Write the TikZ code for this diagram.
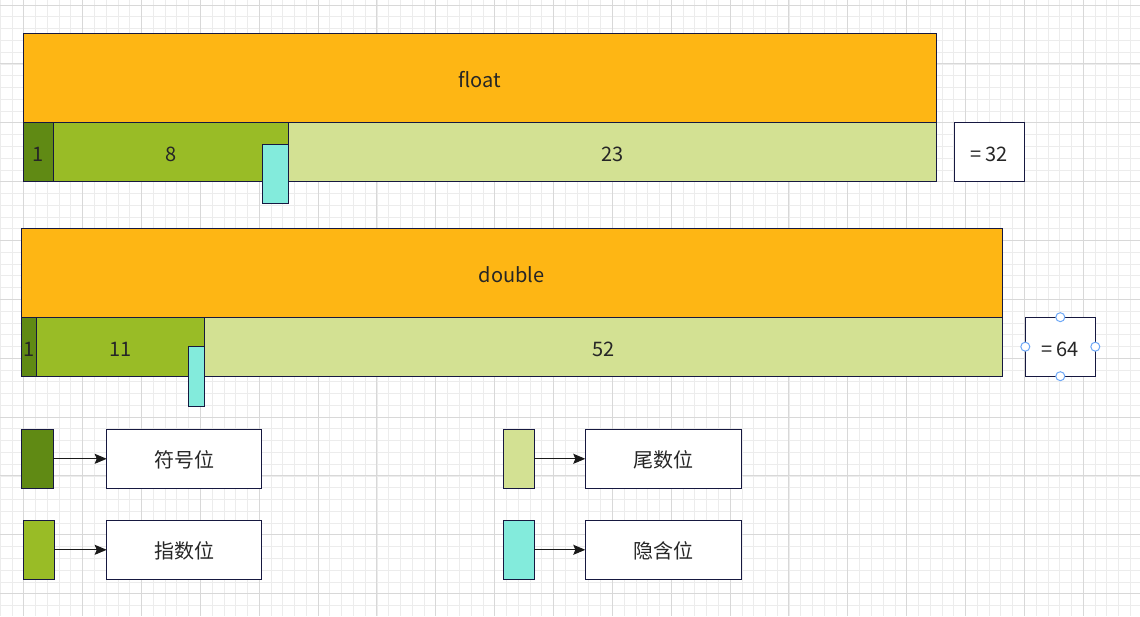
\documentclass[tikz,border=0pt]{standalone}
\usepackage{fontspec}
\setmainfont{Noto Sans CJK SC}
\usetikzlibrary{arrows.meta}
\definecolor{bordercol}{RGB}{22,24,64}
\definecolor{orangecol}{RGB}{254,182,20}
\definecolor{darkgreen}{RGB}{96,138,20}
\definecolor{midgreen}{RGB}{153,188,38}
\definecolor{lightgreen}{RGB}{211,225,147}
\definecolor{cyancol}{RGB}{131,235,220}
\definecolor{gridminor}{RGB}{236,236,236}
\definecolor{gridmajor}{RGB}{216,216,216}
\definecolor{handlecol}{RGB}{110,168,247}
\definecolor{arrowcol}{RGB}{26,26,26}
\tikzset{
  bx/.style={draw=bordercol, line width=1pt, rectangle, inner sep=0pt, outer sep=0pt,
    font=\fontsize{20}{24}\selectfont, text=black!85, text height=19pt, text depth=0pt},
  lbl/.style={bx, fill=white, font=\fontsize{20}{24}\selectfont, text height=17.4pt, text depth=0pt},
  conn/.style={draw=arrowcol, line width=1pt, -{Stealth[length=12pt,width=10pt,inset=2pt]}},
  handle/.style={circle, draw=handlecol, fill=white, line width=1pt, minimum size=9pt, inner sep=0pt}
}
\begin{document}
\begin{tikzpicture}[x=1pt,y=-1pt]
\useasboundingbox (0,0) rectangle (1140,616);
\fill[white] (0,0) rectangle (1140,616);
% grid
\foreach \i in {-2,...,95} {
  \draw[gridminor, line width=0.8pt] ({23.8+\i*11.772},0) -- ({23.8+\i*11.772},616);
}
\foreach \j in {0,...,52} {
  \draw[gridminor, line width=0.8pt] (0,{5.1+\j*11.772}) -- (1140,{5.1+\j*11.772});
}
\foreach \i in {-1,...,19} {
  \draw[gridmajor, line width=1pt] ({23.8+\i*58.86},0) -- ({23.8+\i*58.86},616);
}
\foreach \j in {0,...,10} {
  \draw[gridmajor, line width=1pt] (0,{5.1+\j*58.86}) -- (1140,{5.1+\j*58.86});
}
% float
\node[bx, fill=orangecol, minimum width=913pt, minimum height=89pt] (float) at (479.9,77.8) {float};
\node[bx, fill=darkgreen, minimum width=30pt, minimum height=59pt] (f1) at (38.3,152.3) {1};
\node[bx, fill=midgreen, minimum width=235pt, minimum height=59pt] (f8) at (170.8,152.3) {8};
\node[bx, fill=lightgreen, minimum width=648pt, minimum height=59pt] (f23) at (612.4,152.3) {23};
\node[bx, fill=cyancol, minimum width=26pt, minimum height=59pt] (fh) at (275.3,173.8) {};
\node[bx, fill=white, minimum width=70pt, minimum height=59pt] (f32) at (989.3,151.7) {=\,32};
% double
\node[bx, fill=orangecol, minimum width=981pt, minimum height=89pt] (double) at (511.8,272.8) {double};
\node[bx, fill=darkgreen, minimum width=15pt, minimum height=59pt] (d1) at (28.8,346.8) {1};
\node[bx, fill=midgreen, minimum width=168pt, minimum height=59pt] (d11) at (120.3,346.8) {11};
\node[bx, fill=lightgreen, minimum width=798pt, minimum height=59pt] (d52) at (603.3,346.8) {52};
\node[bx, fill=cyancol, minimum width=15.6pt, minimum height=60pt] (dh) at (196.5,376.3) {};
\node[bx, fill=white, minimum width=70pt, minimum height=59pt] (d64) at (1060.3,346.7) {=\,64};
\node[handle] (h1) at (d64.north) {};
\node[handle] (h2) at (d64.south) {};
\node[handle] (h3) at (d64.west) {};
\node[handle] (h4) at (d64.east) {};
% legend
\node[bx, fill=darkgreen, minimum width=32pt, minimum height=59pt] (s1) at (37.3,458.8) {};
\node[lbl, minimum width=154.6pt, minimum height=59pt] (t1) at (184,458.8) {符号位};
\node[bx, fill=midgreen, minimum width=31pt, minimum height=59pt] (s2) at (38.8,549.8) {};
\node[lbl, minimum width=154.6pt, minimum height=59pt] (t2) at (184,549.8) {指数位};
\node[bx, fill=lightgreen, minimum width=31pt, minimum height=59pt] (s3) at (518.8,458.8) {};
\node[lbl, minimum width=156pt, minimum height=59pt] (t3) at (663.3,458.8) {尾数位};
\node[bx, fill=cyancol, minimum width=31pt, minimum height=59pt] (s4) at (518.8,549.8) {};
\node[lbl, minimum width=156pt, minimum height=59pt] (t4) at (663.3,549.8) {隐含位};
\draw[conn] (s1.east) -- (t1.west);
\draw[conn] (s2.east) -- (t2.west);
\draw[conn] (s3.east) -- (t3.west);
\draw[conn] (s4.east) -- (t4.west);
\end{tikzpicture}
\end{document}
